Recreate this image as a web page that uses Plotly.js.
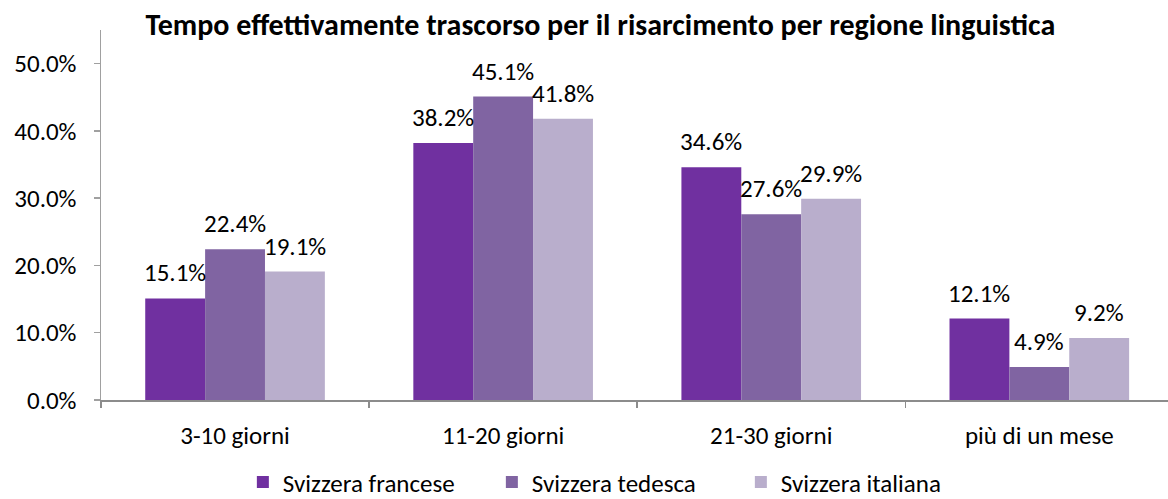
<!DOCTYPE html>
<html>
<head>
<meta charset="utf-8">
<script src="https://cdn.plot.ly/plotly-3.0.1.min.js"></script>
<style>html,body{margin:0;padding:0;background:#fff;}#chart{width:1168px;height:499px;}</style>
</head>
<body>
<div id="chart"></div>
<script>
const categories = ["3-10 giorni", "11-20 giorni", "21-30 giorni", "più di un mese"];
const seriesNames = ["Svizzera francese", "Svizzera tedesca", "Svizzera italiana"];
const francese = [0.151, 0.382, 0.346, 0.121];
const tedesca = [0.224, 0.451, 0.276, 0.049];
const italiana = [0.191, 0.418, 0.299, 0.092];
const colors = ["#7030A0", "#8064A2", "#B9AECC"];
const yTicks = [0, 0.1, 0.2, 0.3, 0.4, 0.5];
const yTickText = ["0.0%", "10.0%", "20.0%", "30.0%", "40.0%", "50.0%"];

const FONT = "Calibri, Carlito, Lato, sans-serif";
const BARGAP = 0.33;
const values = [francese, tedesca, italiana];
const traces = values.map((v, i) => ({
  type: "bar",
  name: seriesNames[i],
  x: categories,
  y: v,
  marker: {color: colors[i]},
  hoverinfo: "skip"
}));

// data labels placed from the data through the axes
const barW = (1 - BARGAP) / values.length;
const annotations = [];
values.forEach((v, i) => {
  v.forEach((d, j) => {
    annotations.push({
      x: j + (i - (values.length - 1) / 2) * barW,
      y: d, xref: "x", yref: "y",
      text: (d * 100).toFixed(1) + "%",
      showarrow: false, yanchor: "bottom", xanchor: "center", yshift: 8,
      font: {family: FONT, size: 25, color: "#000"}
    });
  });
});

const layout = {
  width: 1168, height: 499,
  margin: {l: 101, r: 0, t: 30, b: 99, autoexpand: false},
  paper_bgcolor: "#fff", plot_bgcolor: "#fff",
  barmode: "group",
  bargap: BARGAP, bargroupgap: 0,
  title: {text: "<b>Tempo effettivamente trascorso per il risarcimento per regione linguistica</b>",
    font: {family: FONT, size: 30, color: "#000"}, x: 0.468, xanchor: "center", y: 0.95, yanchor: "middle", xref: "paper"},
  xaxis: {
    type: "category", range: [-0.5, 3.48],
    showline: true, linecolor: "#8C8C8C", linewidth: 2,
    ticks: "outside", tickson: "boundaries", ticklen: 6, tickcolor: "#8C8C8C", tickwidth: 1.5,
    ticklabelstandoff: 12,
    tickfont: {family: FONT, size: 25, color: "#000"},
    showgrid: false, zeroline: false, fixedrange: true
  },
  yaxis: {
    range: [0, 0.55], tickvals: yTicks, ticktext: yTickText,
    showline: true, linecolor: "#A0A0A0", linewidth: 1.5,
    ticks: "outside", ticklen: 6, tickcolor: "#A0A0A0", tickwidth: 1.5,
    ticklabelstandoff: 12,
    tickfont: {family: FONT, size: 25, color: "#000"},
    showgrid: false, zeroline: false, fixedrange: true
  },
  annotations: annotations,
  legend: {orientation: "h", x: 0.483, xanchor: "center", y: -0.222, yanchor: "middle",
    font: {family: FONT, size: 25, color: "#000"}, itemwidth: 20, entrywidth: 204, traceorder: "normal"},
  showlegend: true
};

Plotly.newPlot("chart", traces, layout, {displayModeBar: false, staticPlot: true});
</script>
</body>
</html>
